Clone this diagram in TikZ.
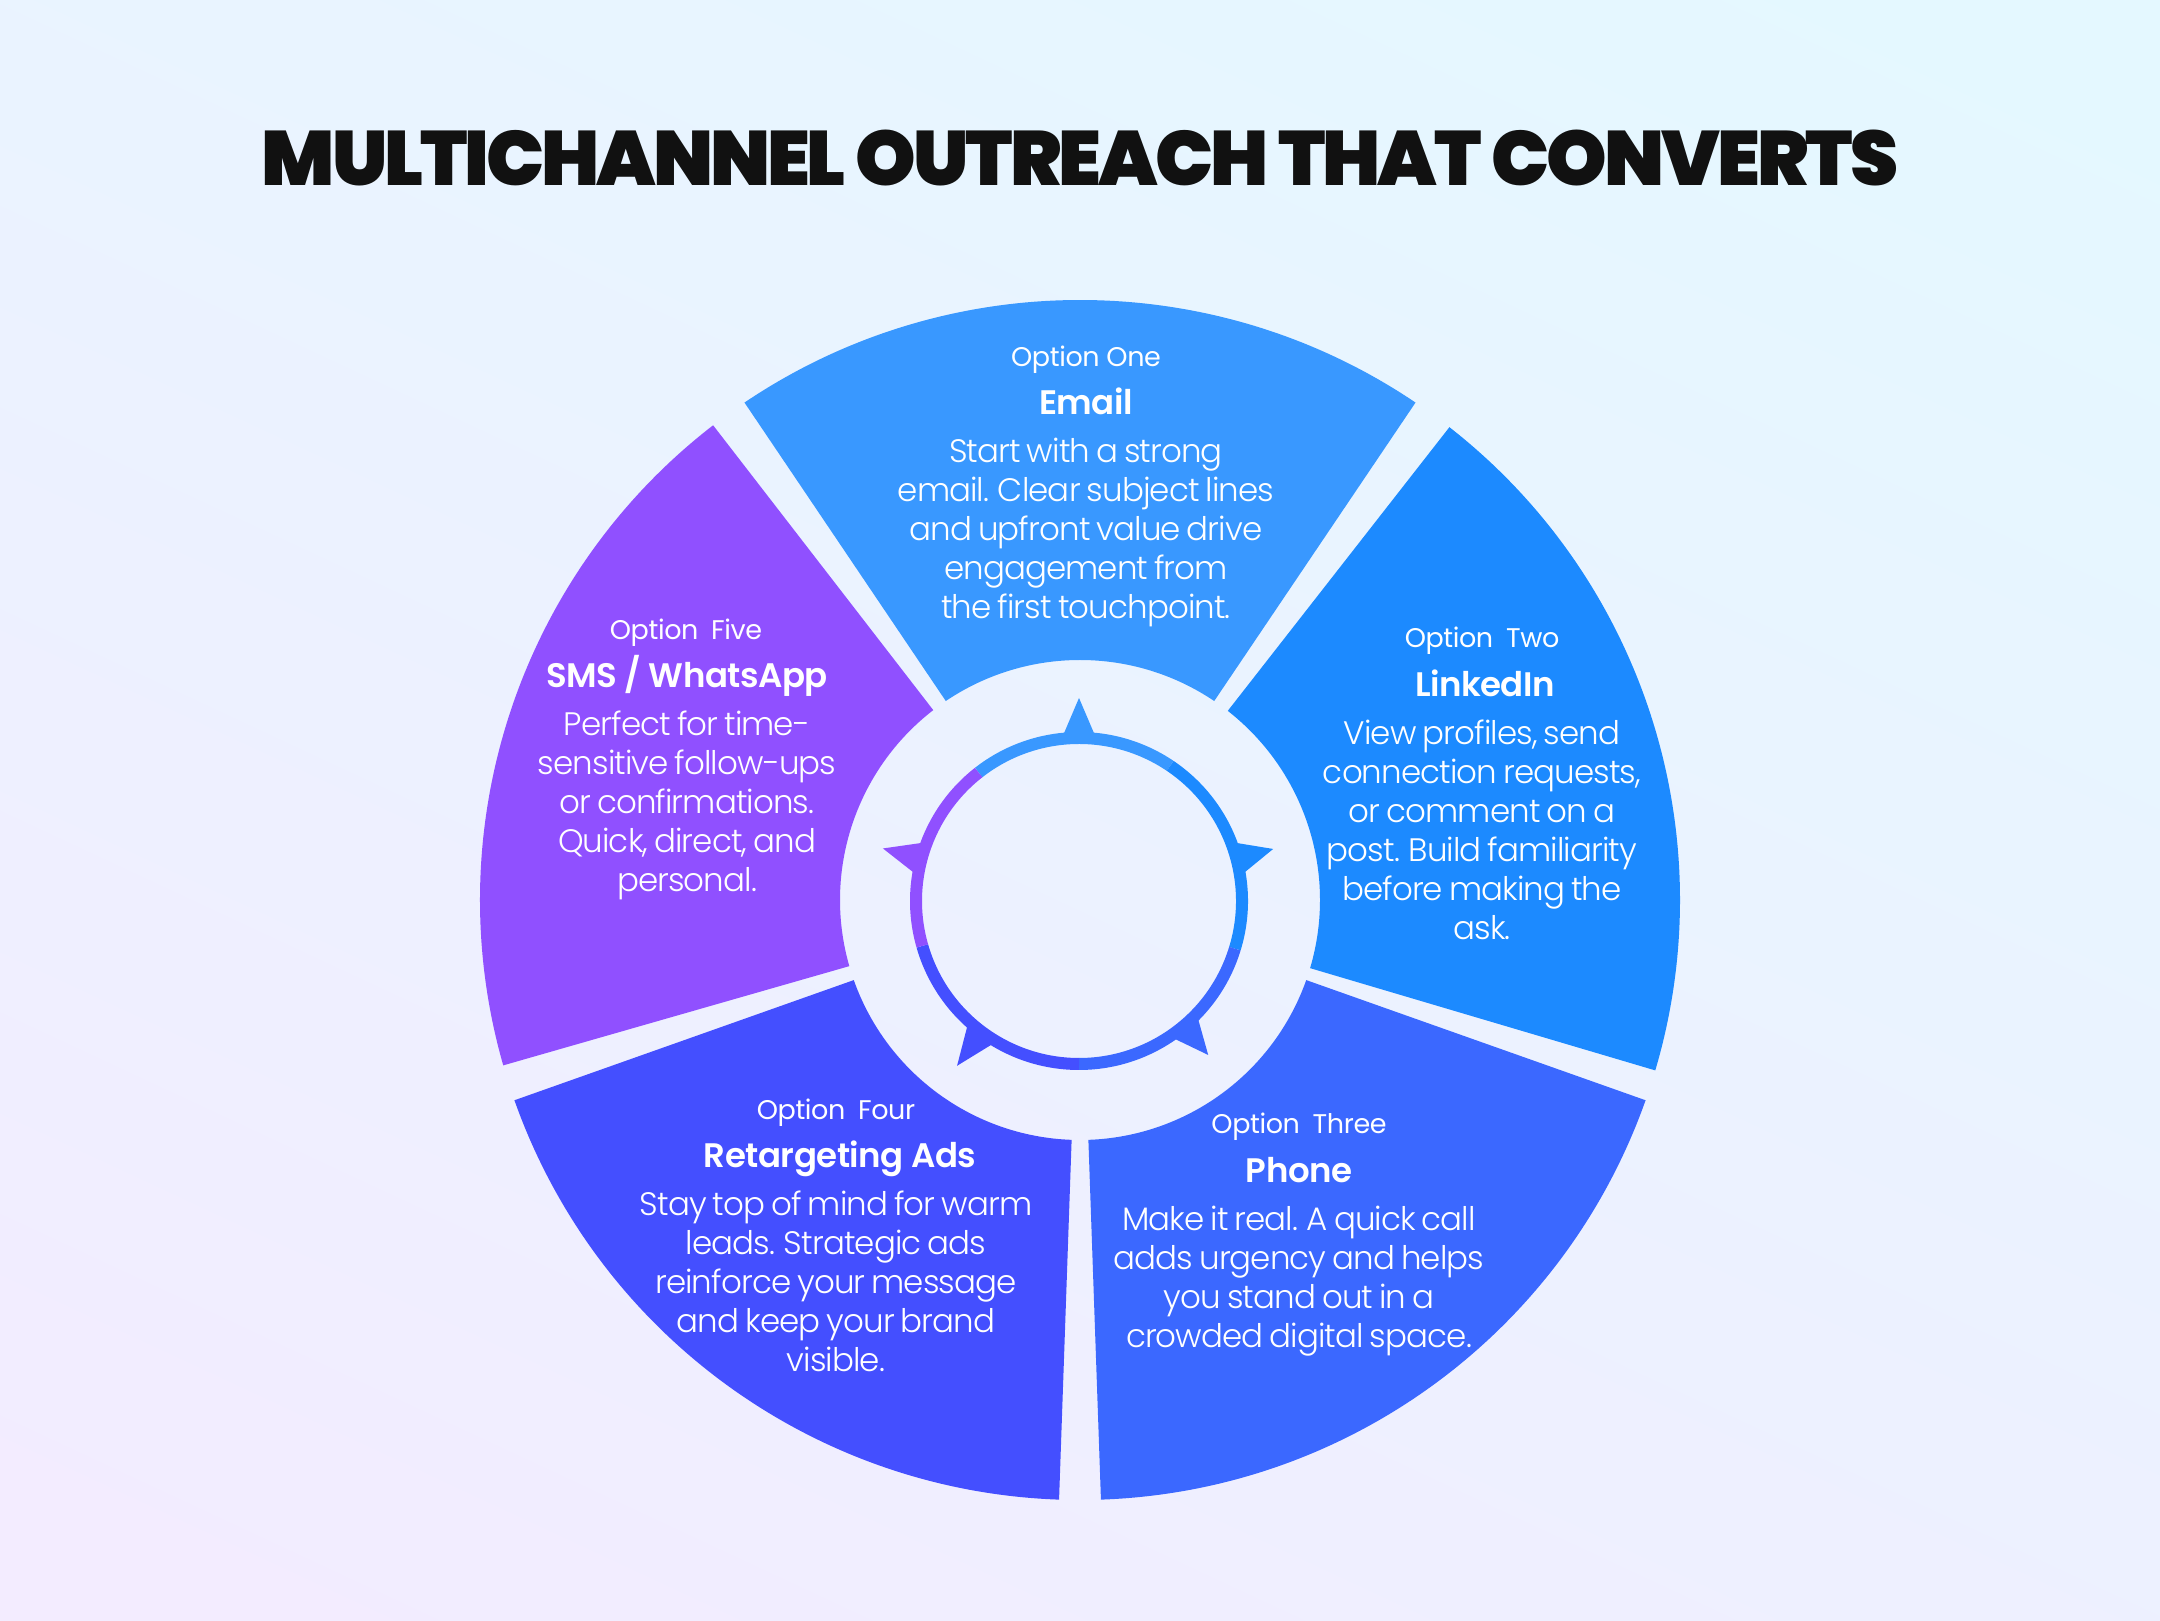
\documentclass[tikz,border=0pt]{standalone}
\usepackage{fontspec}
\setmainfont{Poppins}
\newfontfamily\bodyf[LetterSpace=-2.8,WordSpace=0.75]{Poppins Light}
\newfontfamily\labf[LetterSpace=-1.5]{Poppins}
\newfontfamily\namef[LetterSpace=-1.5]{Poppins SemiBold}
\newfontfamily\titlef[LetterSpace=-4]{Poppins Black}
\definecolor{cemail}{HTML}{3998FF}
\definecolor{clink}{HTML}{1C8AFF}
\definecolor{cphone}{HTML}{3B68FF}
\definecolor{cretar}{HTML}{444FFF}
\definecolor{csms}{HTML}{9050FF}
\definecolor{bgA}{HTML}{F3ECFF}
\definecolor{bgB}{HTML}{E4F8FF}
\definecolor{ink}{HTML}{111111}
\tikzset{
  x=1pt,y=1pt,
  labeltext/.style={text=white,inner sep=0pt,anchor=base,font=\labf\fontsize{27}{27}\selectfont},
  nametext/.style={text=white,inner sep=0pt,anchor=base,font=\namef\fontsize{34}{34}\selectfont},
  bodytext/.style={text=white,inner sep=0pt,anchor=base,align=center,font=\bodyf\fontsize{32.5}{39}\selectfont},
}
\newcommand{\wedgeseg}[3]{\fill[#1] (#2:600pt) arc[start angle=#2,end angle=#3,radius=600pt] -- (#3:240pt) arc[start angle=#3,end angle=#2,radius=240pt] -- cycle;}
\newcommand{\ringseg}[3]{\draw[#1,line width=12pt] (#2:163pt) arc[start angle=#2,end angle=#3,radius=163pt];}
\newcommand{\spikeseg}[3]{\fill[#1] (#2:#3) -- (#2-5.2:168pt) -- (#2:160pt) -- (#2+5.2:168pt) -- cycle;}
\begin{document}
\begin{tikzpicture}
\useasboundingbox (0,0) rectangle (2160,1620);
\begin{scope}
\clip (0,0) rectangle (2160,1620);
\shade[left color=bgA,right color=bgB,shading angle=155] (-200,-200) rectangle (2360,1820);
\end{scope}
\node[inner sep=0pt,text=ink,font=\titlef\fontsize{77.1}{78}\selectfont] (title) at (1080,1462) {MULTICHANNEL OUTREACH THAT CONVERTS};
\begin{scope}[shift={(1080,720)}]
\wedgeseg{cemail}{56}{124}
\wedgeseg{clink}{-16.5}{52}
\wedgeseg{cphone}{-88}{-19.5}
\wedgeseg{cretar}{-160.5}{-92}
\wedgeseg{csms}{127.7}{196}
\end{scope}
\begin{scope}[shift={(1079,719)}]
\ringseg{cemail}{56}{128}
\ringseg{clink}{-17}{56}
\ringseg{cphone}{-90}{-17}
\ringseg{cretar}{-164}{-90}
\ringseg{csms}{128}{196}
\spikeseg{cemail}{90}{203pt}
\spikeseg{clink}{15}{201pt}
\spikeseg{cphone}{-50}{201pt}
\spikeseg{cretar}{-126.5}{205pt}
\spikeseg{csms}{165}{203pt}
\end{scope}
% Email
\node[labeltext] (l1) at (1086,1253) {Option One};
\node[nametext] (n1) at (1086,1205) {Email};
\node[bodytext,anchor=north] (b1) at (1086,1182) {Start with a strong\\email. Clear subject lines\\and upfront value drive\\engagement from\\the first touchpoint.};
% LinkedIn
\node[labeltext] (l2) at (1482,972) {Option\hspace{6pt} Two};
\node[nametext] (n2) at (1485,923) {LinkedIn};
\node[bodytext,anchor=north] (b2) at (1482,900) {View profiles, send\\connection requests,\\or comment on a\\post. Build familiarity\\before making the\\ask.};
% Phone
\node[labeltext] (l3) at (1299,1620-1134) {Option\hspace{6pt} Three};
\node[nametext] (n3) at (1299,1620-1183) {Phone};
\node[bodytext,anchor=north] (b3) at (1299,1620-1206) {Make it real. A quick call\\adds urgency and helps\\you stand out in a\\crowded digital space.};
% Retargeting
\node[labeltext] (l4) at (836,1620-1120) {Option\hspace{6pt} Four};
\node[nametext] (n4) at (840,1620-1168) {Retargeting Ads};
\node[bodytext,anchor=north] (b4) at (836,1620-1191) {Stay top of mind for warm\\leads. Strategic ads\\reinforce your message\\and keep your brand\\visible.};
% SMS
\node[labeltext] (l5) at (686,1620-640) {Option\hspace{6pt} Five};
\node[nametext] (n5) at (687,1620-688) {SMS / WhatsApp};
\node[bodytext,anchor=north] (b5) at (687,1620-711) {Perfect for time-\\sensitive follow-ups\\or confirmations.\\Quick, direct, and\\personal.};
\end{tikzpicture}
\end{document}
